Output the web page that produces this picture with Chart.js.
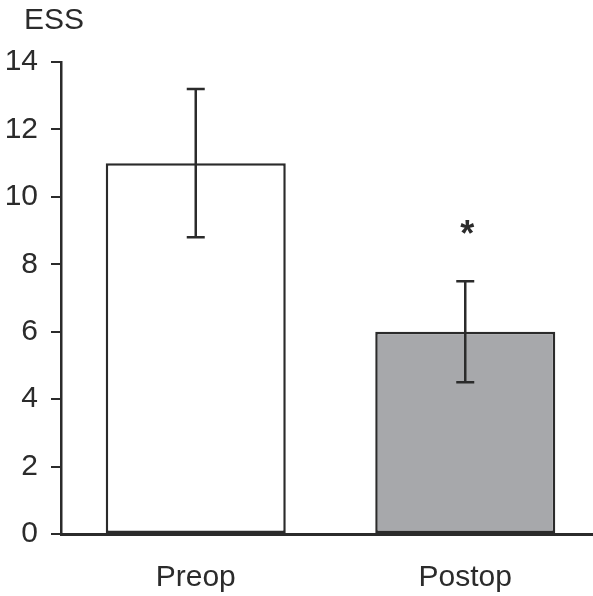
<!DOCTYPE html>
<html>
<head>
<meta charset="utf-8">
<script src="https://cdn.jsdelivr.net/npm/chart.js@4.4.1/dist/chart.umd.min.js"></script>
<style>
  html, body { margin: 0; padding: 0; background: #fff; overflow: hidden; }
  #wrap { width: 600px; height: 596px; }
</style>
</head>
<body>
<div id="wrap"><canvas id="grafica"></canvas></div>
<script>
const categories = ["Preop", "Postop"];
const meanValues = [11, 6];
const errLow = [8.8, 4.5];
const errHigh = [13.2, 7.5];
const markers = ["", "*"];
const barColors = ["#ffffff", "#a7a8ab"];

const FONT = '"Liberation Sans", Arial, sans-serif';
const INK = "#2b2b2b";

// error bars, asterisk and the "ESS" label
const extras = {
    id: "extras",
    afterDatasetsDraw(chart) {
        const ctx = chart.ctx;
        const x = chart.scales.x, y = chart.scales.y;
        ctx.save();
        ctx.strokeStyle = INK;
        ctx.lineWidth = 2.5;
        categories.forEach(function (c, i) {
            const cx = x.getPixelForValue(i);
            const top = y.getPixelForValue(errHigh[i]);
            const bot = y.getPixelForValue(errLow[i]);
            ctx.beginPath();
            ctx.moveTo(cx, top); ctx.lineTo(cx, bot);
            ctx.moveTo(cx - 9, top); ctx.lineTo(cx + 9, top);
            ctx.moveTo(cx - 9, bot); ctx.lineTo(cx + 9, bot);
            ctx.stroke();
            if (markers[i]) {
                ctx.fillStyle = INK;
                ctx.font = "bold 36px " + FONT;
                ctx.textAlign = "center";
                ctx.textBaseline = "middle";
                ctx.fillText(markers[i], cx + 2, top - 45);
            }
        });
        ctx.fillStyle = INK;
        ctx.font = "30px " + FONT;
        ctx.textAlign = "left";
        ctx.textBaseline = "middle";
        ctx.fillText("ESS", chart.chartArea.left - 37, 21);
        ctx.restore();
    }
};

let chart = new Chart(document.getElementById("grafica").getContext("2d"), {
    type: "bar",
    data: {
        labels: categories,
        datasets: [
            {
                data: meanValues,
                backgroundColor: barColors,
                borderColor: INK,
                borderWidth: 2.5,
                borderSkipped: false,
                barPercentage: 1,
                categoryPercentage: 0.668
            }
        ]
    },
    options: {
        responsive: true,
        maintainAspectRatio: false,
        animation: false,
        layout: { padding: { top: 62, left: 0, right: 0, bottom: 0 } },
        scales: {
            x: {
                grid: { display: false },
                border: { display: true, color: INK, width: 3 },
                ticks: { color: INK, font: { family: FONT, size: 30 }, padding: 18 },
                afterFit: function (s) { s.height = 62; }
            },
            y: {
                min: 0,
                max: 14,
                ticks: { stepSize: 2, color: INK, font: { family: FONT, size: 30 }, padding: 13 },
                grid: { drawOnChartArea: false, drawTicks: true, tickLength: 10, color: INK, lineWidth: 2 },
                border: { display: true, color: INK, width: 2.5 },
                afterFit: function (s) { s.width = 61; }
            }
        },
        plugins: {
            legend: { display: false },
            tooltip: { enabled: false }
        }
    },
    plugins: [extras]
})
</script>
</body>
</html>
